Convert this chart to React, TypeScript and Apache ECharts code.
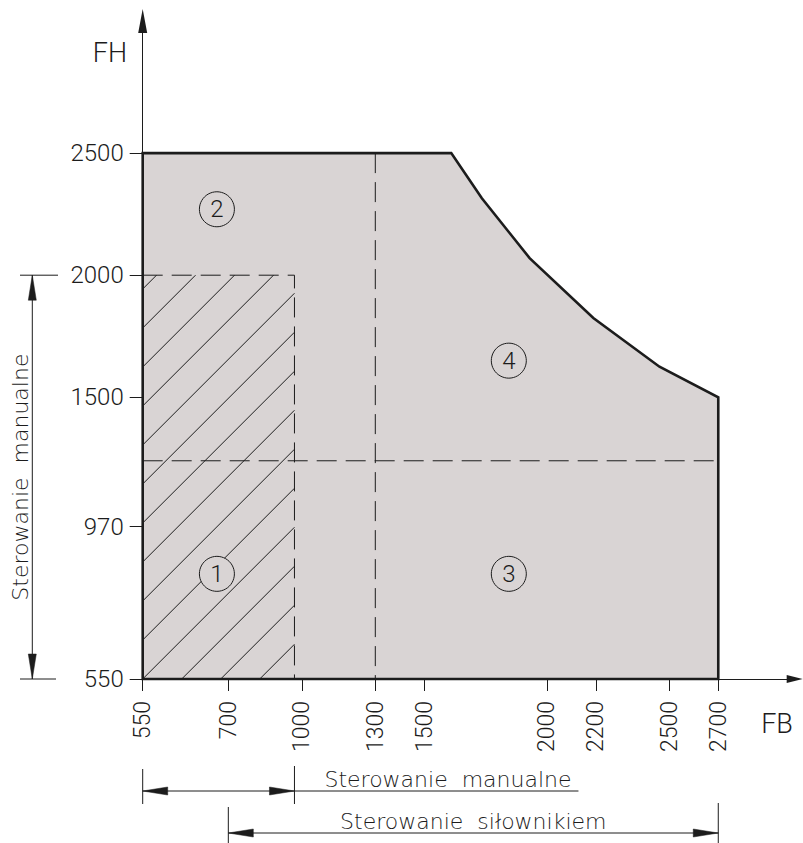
import React, { useEffect, useRef } from 'react';
import * as echarts from 'echarts';

// ---- data ----
const FB_TICKS = [550, 700, 1000, 1300, 1500, 2000, 2200, 2500, 2700];
const FH_TICKS = [550, 970, 1500, 2000, 2500];
// outer limit of the operating range (FB, FH)
const LIMIT_FB = [550, 550, 1610, 1735, 1930, 2190, 2460, 2700, 2700];
const LIMIT_FH = [550, 2500, 2500, 2315, 2070, 1825, 1625, 1500, 550];
// manual-operation field (hatched)
const MANUAL_FB = [550, 970];
const MANUAL_FH = [550, 2000];
// actuator range along FB
const ACTUATOR_FB = [700, 2700];
// dashed split lines
const SPLIT_FB = 1300;
const SPLIT_FH = 1240;
// zone markers
const ZONE_NAMES = ['1', '2', '3', '4'];
const ZONE_FB = [680, 680, 1845, 1845];
const ZONE_FH = [840, 2270, 840, 1650];
const MANUAL_TEXT = 'Sterowanie  manualne';
const ACTUATOR_TEXT = 'Sterowanie  siłownikiem';

// The first interval of each axis is drawn stretched (drawing not to scale there).
const FB_BREAK = 700;
const FB_STRETCH = 2.33;
const FH_BREAK = 970;
const FH_STRETCH = 1.485;
const toX = (v: number) => (v < FB_BREAK ? FB_BREAK - (FB_BREAK - v) * FB_STRETCH : v);
const fromX = (u: number) => (u < FB_BREAK ? FB_BREAK - (FB_BREAK - u) / FB_STRETCH : u);
const toY = (v: number) => (v < FH_BREAK ? FH_BREAK - (FH_BREAK - v) * FH_STRETCH : v);
const fromY = (u: number) => (u < FH_BREAK ? FH_BREAK - (FH_BREAK - u) / FH_STRETCH : u);

const INK = '#1c1c1c';
const FILL = '#d9d4d4';
const NUM = "Roboto, 'DejaVu Sans Condensed', sans-serif";
const SANS = "'DejaVu Sans', sans-serif";

function txt(x: number, y: number, text: string, align: string, vAlign: string, font: string, size: number, weight: number, rotation = 0) {
  return {
    type: 'text',
    x,
    y,
    rotation,
    style: {
      text,
      fill: INK,
      fontFamily: font,
      fontSize: size,
      fontWeight: weight,
      align,
      textAlign: align,
      verticalAlign: vAlign,
      textVerticalAlign: vAlign,
    },
  };
}
function seg(x1: number, y1: number, x2: number, y2: number, w = 1) {
  return { type: 'line', shape: { x1, y1, x2, y2 }, style: { stroke: INK, lineWidth: w } };
}
function arrow(tx: number, ty: number, dx: number, dy: number, len = 25, half = 4) {
  // tip at (tx,ty), pointing in direction (dx,dy)
  const bx = tx - dx * len;
  const by = ty - dy * len;
  const px = -dy * half;
  const py = dx * half;
  return {
    type: 'polygon',
    shape: { points: [[tx, ty], [bx + px, by + py], [bx - px, by - py]] },
    style: { fill: INK, stroke: INK, lineWidth: 0.5 },
  };
}

export default function App() {
  const ref = useRef<HTMLDivElement>(null);
  useEffect(() => {
    if (!ref.current) return;
    const chart = echarts.init(ref.current, null, { renderer: 'svg' });

    const xMin = toX(FB_TICKS[0]);
    const yMin = toY(FH_TICKS[0]);

    const option: any = {
      animation: false,
      backgroundColor: '#ffffff',
      grid: { left: 142.7, right: 8.3, top: 21, bottom: 164, containLabel: false, outerBoundsMode: 'none' },
      xAxis: {
        type: 'value',
        min: xMin,
        max: 3012,
        axisLine: {
          show: true,
          onZero: false,
          symbol: ['none', 'triangle'],
          symbolSize: [8, 16],
          lineStyle: { color: INK, width: 1 },
        },
        axisTick: {
          show: true,
          customValues: FB_TICKS.map(toX),
          length: 12,
          lineStyle: { color: INK, width: 1 },
        },
        axisLabel: {
          show: true,
          customValues: FB_TICKS.map(toX),
          rotate: 90,
          margin: 22,
          color: INK,
          fontFamily: NUM,
          fontWeight: 300,
          fontSize: 23,
          formatter: (v: number) => String(Math.round(fromX(v))),
        },
        splitLine: { show: false },
      },
      yAxis: {
        type: 'value',
        min: yMin,
        max: 3041,
        axisLine: {
          show: true,
          onZero: false,
          symbol: ['none', 'triangle'],
          symbolSize: [9, 24],
          lineStyle: { color: INK, width: 1 },
        },
        axisTick: {
          show: true,
          customValues: FH_TICKS.map(toY),
          length: 13,
          lineStyle: { color: INK, width: 1 },
        },
        axisLabel: {
          show: true,
          customValues: FH_TICKS.map(toY),
          margin: 19,
          color: INK,
          fontFamily: NUM,
          fontWeight: 300,
          fontSize: 24,
          formatter: (v: number) => String(Math.round(fromY(v))),
        },
        splitLine: { show: false },
      },
      series: [
        {
          name: 'limit',
          type: 'custom',
          z: 1,
          silent: true,
          data: [[toX(LIMIT_FB[0]), toY(LIMIT_FH[0])]],
          renderItem: (_p: any, api: any) => {
            const pts = LIMIT_FB.map((x, i) => api.coord([toX(x), toY(LIMIT_FH[i])]));
            return {
              type: 'polygon',
              shape: { points: pts },
              style: { fill: FILL, stroke: INK, lineWidth: 2.6, lineJoin: 'miter' },
            };
          },
        },
        {
          name: 'manual-hatch',
          type: 'custom',
          z: 2,
          silent: true,
          data: [[toX(MANUAL_FB[0]), toY(MANUAL_FH[0])]],
          renderItem: (_p: any, api: any) => {
            const [x0, y0] = api.coord([toX(MANUAL_FB[0]), toY(MANUAL_FH[1])]);
            const [x1, y1] = api.coord([toX(MANUAL_FB[1]), toY(MANUAL_FH[0])]);
            const step = 39;
            const base = x0 + y1;
            const children: any[] = [];
            let c = base - step * Math.floor((base - (x0 + y0)) / step);
            for (; c < x1 + y1; c += step) {
              const sx = Math.max(x0, c - y1);
              const ex = Math.min(x1, c - y0);
              if (ex - sx > 0.5) children.push(seg(sx, c - sx, ex, c - ex, 1));
            }
            return { type: 'group', children };
          },
        },
        {
          name: 'split-fb',
          type: 'line',
          z: 3,
          silent: true,
          symbol: 'none',
          lineStyle: { color: INK, width: 1, type: [20, 9] },
          data: [
            [toX(SPLIT_FB), toY(LIMIT_FH[1])],
            [toX(SPLIT_FB), toY(LIMIT_FH[0])],
          ],
        },
        {
          name: 'split-fh',
          type: 'line',
          z: 3,
          silent: true,
          symbol: 'none',
          lineStyle: { color: INK, width: 1, type: [20, 9] },
          data: [
            [toX(LIMIT_FB[0]), toY(SPLIT_FH)],
            [toX(LIMIT_FB[LIMIT_FB.length - 1]), toY(SPLIT_FH)],
          ],
        },
        {
          name: 'manual-outline',
          type: 'line',
          z: 3,
          silent: true,
          symbol: 'none',
          lineStyle: { color: INK, width: 1, type: [20, 9] },
          data: [
            [toX(MANUAL_FB[0]), toY(MANUAL_FH[1])],
            [toX(MANUAL_FB[1]), toY(MANUAL_FH[1])],
            [toX(MANUAL_FB[1]), toY(MANUAL_FH[0])],
          ],
        },
        {
          name: 'zones',
          type: 'scatter',
          z: 5,
          silent: true,
          symbol: 'circle',
          symbolSize: 35,
          itemStyle: { color: FILL, borderColor: INK, borderWidth: 1, opacity: 1 },
          label: {
            show: true,
            position: 'inside',
            color: INK,
            fontFamily: NUM,
            fontWeight: 300,
            fontSize: 24,
            formatter: (p: any) => p.data[2],
          },
          data: ZONE_NAMES.map((n, i) => [toX(ZONE_FB[i]), toY(ZONE_FH[i]), n]),
        },
        {
          name: 'dimensions',
          type: 'custom',
          z: 6,
          silent: true,
          clip: false,
          data: [[toX(MANUAL_FB[0]), toY(MANUAL_FH[0])]],
          renderItem: (_p: any, api: any) => {
            const xa = api.coord([toX(MANUAL_FB[0]), yMin])[0];
            const xb = api.coord([toX(MANUAL_FB[1]), yMin])[0];
            const xc = api.coord([toX(ACTUATOR_FB[0]), yMin])[0];
            const xd = api.coord([toX(ACTUATOR_FB[1]), yMin])[0];
            const yTop = api.coord([xMin, toY(MANUAL_FH[1])])[1];
            const yBot = api.coord([xMin, toY(MANUAL_FH[0])])[1];
            const d1 = 791;
            const d2 = 833;
            const lx = 32.3;
            const children: any[] = [
              // manual range along FB
              seg(xa, 769, xa, 804),
              seg(xb, 766, xb, 804),
              seg(xa, d1, xb + 284, d1),
              arrow(xa, d1, -1, 0),
              arrow(xb, d1, 1, 0),
              txt(xb + 30, d1 - 1, MANUAL_TEXT, 'left', 'bottom', SANS, 22, 200),
              // actuator range along FB
              seg(xc, 807, xc, 843),
              seg(xd, 803, xd, 843),
              seg(xc, d2, xd, d2),
              arrow(xc, d2, -1, 0),
              arrow(xd, d2, 1, 0),
              txt((xc + xd) / 2, d2 - 1, ACTUATOR_TEXT, 'center', 'bottom', SANS, 22, 200),
              // manual range along FH
              seg(20, yTop, 58, yTop),
              seg(20, yBot, 56, yBot),
              seg(lx, yTop, lx, yBot),
              arrow(lx, yTop, 0, -1),
              arrow(lx, yBot, 0, 1),
              txt(20, (yTop + yBot) / 2, MANUAL_TEXT, 'center', 'middle', SANS, 22, 200, Math.PI / 2),
              // axis names
              txt(110, 53, 'FH', 'center', 'middle', NUM, 27, 300),
              txt(777, 724, 'FB', 'center', 'middle', NUM, 27, 300),
            ];
            return { type: 'group', children };
          },
        },
      ],
    };
    chart.setOption(option);
    return () => chart.dispose();
  }, []);
  return (
    <div
      ref={ref}
      style={{ position: 'absolute', left: 0, top: 0, width: 803, height: 843, background: '#fff' }}
    />
  );
}
